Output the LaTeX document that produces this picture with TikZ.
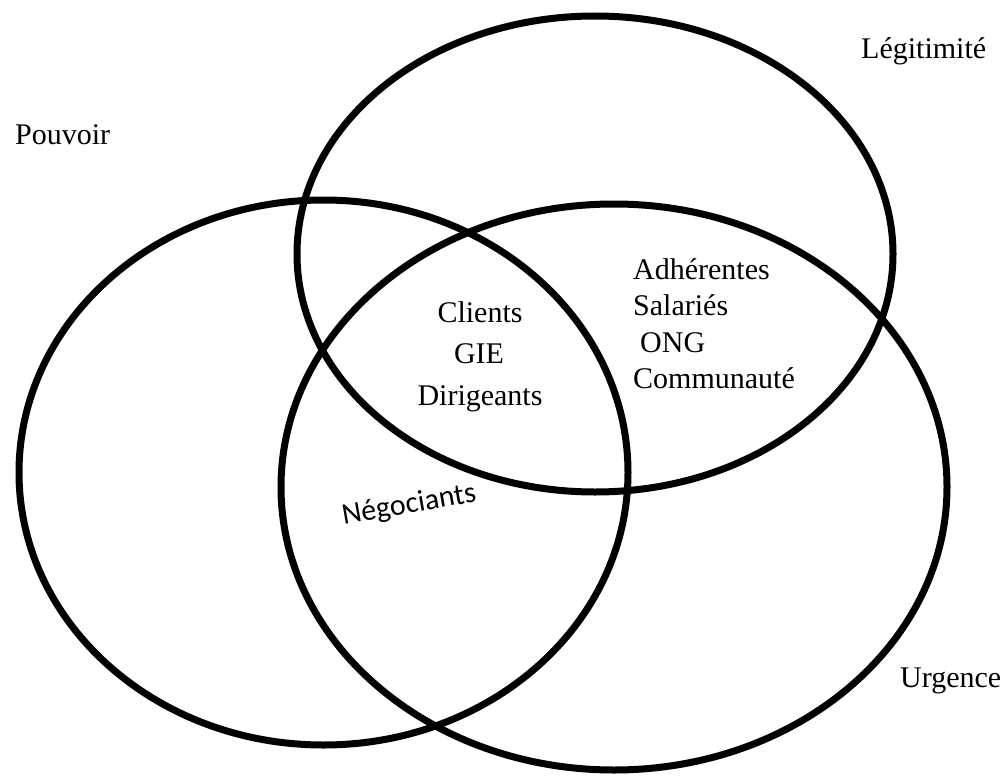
\documentclass[tikz,border=0pt]{standalone}
\usepackage{fontspec}
\setmainfont{Liberation Serif}
\newfontfamily\timesfont{Liberation Serif}
\newfontfamily\calibrifont{Carlito}
\tikzset{
  venn/.style={line width=7pt, draw=black},
  lbl/.style={inner sep=0pt, font=\timesfont\fontsize{30}{36}\selectfont},
  sanslbl/.style={inner sep=0pt, font=\calibrifont\fontsize{30}{36}\selectfont}
}
\begin{document}
\begin{tikzpicture}[x=1pt,y=1pt]
\useasboundingbox[fill=white] (0,0) rectangle (1007,-776);
% ellipses
\draw[venn] (595,-254) ellipse [x radius=298, y radius=238];
\draw[venn] (323.5,-472.5) ellipse [x radius=304.5, y radius=272.5];
\draw[venn] (614,-487) ellipse [x radius=333, y radius=283];
% set labels
\node[lbl, anchor=base west] (leg) at (861,-59) {Légitimité};
\node[lbl, anchor=base west] (pou) at (15,-144) {Pouvoir};
\node[lbl, anchor=base west] (urg) at (900,-687) {Urgence};
% centre
\node[lbl, anchor=base] (cli) at (480,-322) {Clients};
\node[lbl, anchor=base] (gie) at (479,-363) {GIE};
\node[lbl, anchor=base] (dir) at (480,-405) {Dirigeants};
% legitimite & urgence
\node[lbl, anchor=base west] (adh) at (633,-279) {Adhérentes};
\node[lbl, anchor=base west] (sal) at (633,-315) {Salariés};
\node[lbl, anchor=base west] (ong) at (640,-352) {ONG};
\node[lbl, anchor=base west] (com) at (633,-388) {Communauté};
% pouvoir & urgence
\node[sanslbl, anchor=base, rotate=10] (neg) at (410.5,-513) {Négociants};
\end{tikzpicture}
\end{document}
